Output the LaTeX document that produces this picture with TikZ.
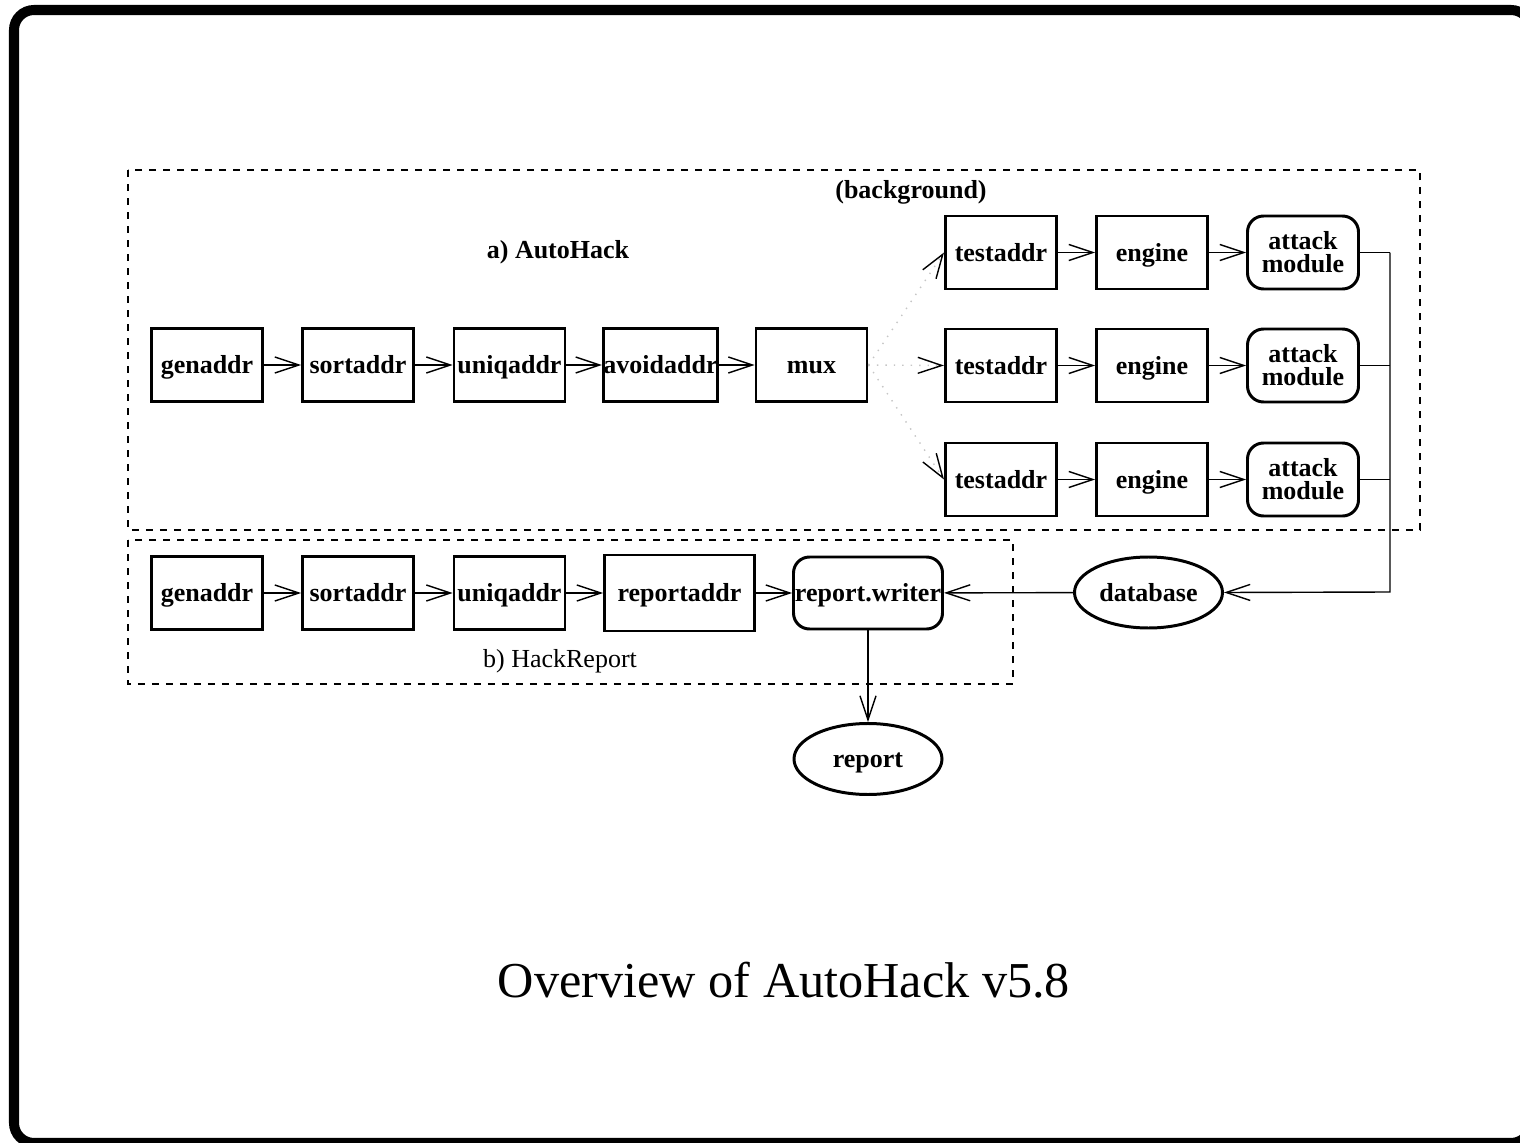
\documentclass[tikz,border=0pt]{standalone}
\usepackage{fontspec}
\setmainfont{Liberation Serif}
\usetikzlibrary{arrows.meta}
\usetikzlibrary{shapes.geometric}

\tikzset{
  >={Straight Barb[length=2.4mm,width=1.6mm]},
  lbl/.style={font=\fontsize{7.4}{6.6}\selectfont\bfseries},
  block/.style={lbl, draw, line width=0.85pt, minimum width=1.11cm, minimum height=0.73cm, inner sep=0pt, align=center, text height=1.55ex, text depth=0.45ex},
  rblock/.style={block, rounded corners=0.16cm},
  twoline/.style={text height=, text depth=},
  store/.style={block, ellipse, minimum width=1.48cm, minimum height=0.71cm},
  flow/.style={->, line width=0.4pt},
  group/.style={line width=0.5pt, dash pattern=on 0.7mm off 0.7mm}
}

\begin{document}
\begin{tikzpicture}
\useasboundingbox (0,0) rectangle (15.2,-11.43);
\draw[line width=2.85pt, rounded corners=0.2cm] (0.14,-0.10) rectangle (15.31,-11.43);

\draw[group] (1.28,-1.70) rectangle (14.20,-5.30);
\draw[group] (1.28,-5.40) rectangle (10.13,-6.84);
\node[lbl] (bgtitle) at (9.11,-1.92) {(background)};
\node[lbl] (atitle) at (5.58,-2.52) {a) AutoHack};
\node[font=\fontsize{7.4}{8}\selectfont] (btitle) at (5.60,-6.61) {b) HackReport};

\node[block] (gen1) at (2.07,-3.65) {genaddr};
\node[block] (sort1) at (3.58,-3.65) {sortaddr};
\node[block] (uniq1) at (5.095,-3.65) {uniqaddr};
\node[block] (avoid) at (6.605,-3.65) {avoidaddr};
\node[block] (mux) at (8.115,-3.65) {mux};
\draw[flow] (gen1) -- (sort1);
\draw[flow] (sort1) -- (uniq1);
\draw[flow] (uniq1) -- (avoid);
\draw[flow] (avoid) -- (mux);

\coordinate (bus) at (13.90,-5.92);
\foreach \i/\y in {1/2.525,2/3.655,3/4.795} {
  \node[block] (test\i) at (10.01,-\y) {testaddr};
  \node[block] (engine\i) at (11.52,-\y) {engine};
  \node[rblock, twoline] (attack\i) at (13.03,-\y) {attack\\module};
  \draw[flow, draw=gray!45, dotted, -{Straight Barb[length=2.4mm,width=1.6mm,color=black]}] (mux.east) -- (test\i.west);
  \draw[flow] (test\i) -- (engine\i);
  \draw[flow] (engine\i) -- (attack\i);
  \draw[line width=0.4pt] (attack\i.east) -- (attack\i.east -| bus);
}

\node[store] (db) at (11.485,-5.925) {database};
\draw[flow] (attack1.east -| bus) -- (bus) -- (db.east);

\node[block] (gen2) at (2.07,-5.93) {genaddr};
\node[block] (sort2) at (3.58,-5.93) {sortaddr};
\node[block] (uniq2) at (5.095,-5.93) {uniqaddr};
\node[block, minimum width=1.50cm, minimum height=0.76cm] (repaddr) at (6.795,-5.93) {reportaddr};
\node[rblock, minimum width=1.49cm, minimum height=0.72cm] (writer) at (8.68,-5.93) {report.writer};
\node[store] (report) at (8.68,-7.59) {report};
\draw[flow] (gen2) -- (sort2);
\draw[flow] (sort2) -- (uniq2);
\draw[flow] (uniq2) -- (repaddr);
\draw[flow] (repaddr) -- (writer);
\draw[flow] (db) -- (writer);
\draw[flow] (writer) -- (report);

\node[font=\fontsize{14.3}{16}\selectfont, anchor=base] (caption) at (7.84,-9.97) {Overview of AutoHack v5.8};
\end{tikzpicture}
\end{document}
